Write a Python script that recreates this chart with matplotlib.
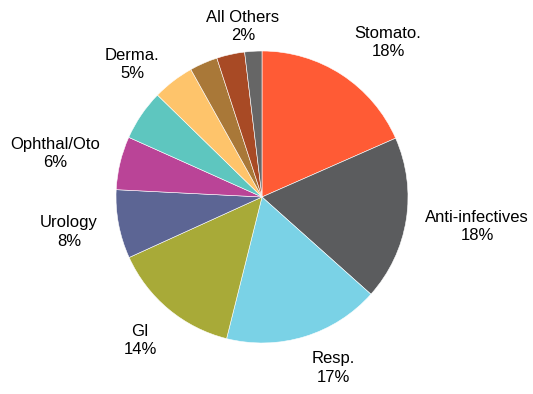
import matplotlib.pyplot as plt

plt.rcParams['font.family'] = ['Liberation Sans Narrow', 'Liberation Sans', 'DejaVu Sans']

# slice shares, clockwise from 12 o'clock
segments = ['Stomato.', 'Anti-infectives', 'Resp.', 'GI', 'Urology', 'Ophthal/Oto',
            'Derma.', 'Other 1', 'Other 2', 'Other 3', 'All Others']
shares = [18.4, 18.2, 17.3, 14.3, 7.6, 5.9, 5.6, 4.6, 3.1, 3.1, 1.9]
colors = ['#FF5B35', '#5B5C5E', '#7AD2E6', '#A8AA38', '#5C6594', '#BA4497',
          '#5EC6BF', '#FEC46B', '#A97838', '#A84A25', '#666666']

# labels shown on the chart
label_names = ['Stomato.', 'Anti-infectives', 'Resp.', 'GI', 'Urology',
               'Ophthal/Oto', 'Derma.', 'All Others']
label_pcts = ['18%', '18%', '17%', '14%', '8%', '6%', '5%', '2%']
# label centres in pixels of the 533x394 image
label_px = [(388, 42), (477, 226), (333, 368), (140, 341), (69, 232),
            (55, 154), (132, 65), (243, 26)]

W, H = 533, 394
cx, cy, r = 262, 197, 146

fig = plt.figure(figsize=(W / 100, H / 100), dpi=100)
ax = fig.add_axes([(cx - r) / W, (H - cy - r) / H, 2 * r / W, 2 * r / H])
ax.pie(shares, colors=colors, startangle=90, counterclock=False, radius=1,
       wedgeprops=dict(edgecolor='white', linewidth=0.4))
ax.set_xlim(-1, 1)
ax.set_ylim(-1, 1)
ax.set_aspect('equal')
ax.axis('off')

for name, pct, (px, py) in zip(label_names, label_pcts, label_px):
    fig.text(px / W, 1 - py / H, f'{name}\n{pct}', ha='center', va='center',
             fontsize=12, linespacing=1.25, color='black')

plt.savefig('out.png', dpi=100)
